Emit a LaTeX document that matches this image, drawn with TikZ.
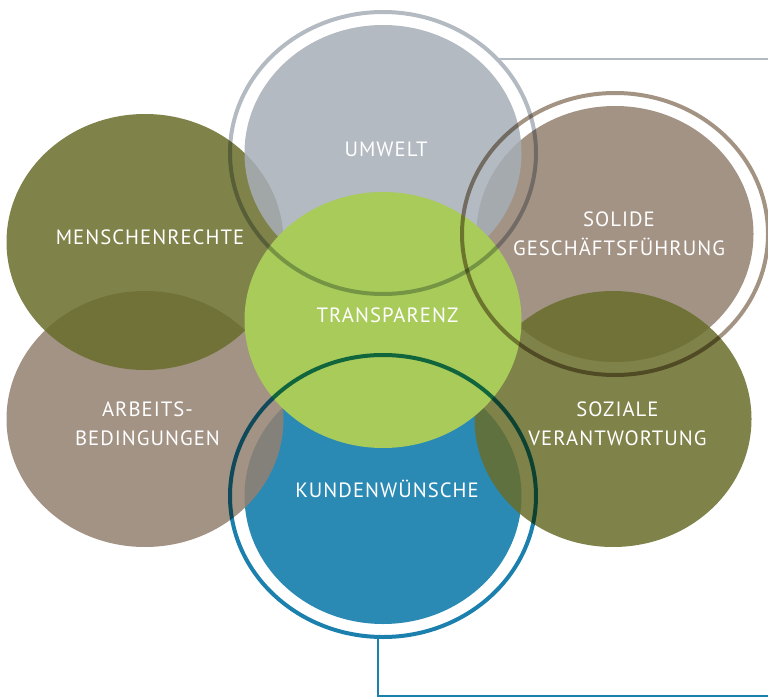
\documentclass[tikz,border=0pt]{standalone}
\usepackage{fontspec}
\newfontfamily\labelfont[LetterSpace=5]{PT Sans}
\usepackage{tikz}
\usetikzlibrary{shapes.geometric}
\definecolor{olivfill}{HTML}{686D2A}
\definecolor{taupefill}{HTML}{938070}
\definecolor{graufill}{HTML}{A6AEB6}
\definecolor{blaufill}{HTML}{0575A7}
\definecolor{gruenfill}{HTML}{A8CB5A}
\definecolor{grauring}{HTML}{B3BAC1}
\definecolor{taupering}{HTML}{A39383}
\definecolor{blauring}{HTML}{1B80AD}

\begin{document}
\begin{tikzpicture}[x=1pt,y=-1pt,
  blob/.style={ellipse, minimum width=277pt, minimum height=256pt, inner sep=0pt, fill opacity=0.85},
  ringline/.style={ellipse, draw, line width=4pt, minimum width=306pt, minimum height=282pt, inner sep=0pt},
  txt/.style={text=white, font=\labelfont\fontsize{20.7}{29}\selectfont, align=center},
  oneline/.style={txt, text height=14.5pt, text depth=0pt},
  link/.style={line width=2pt}]
\useasboundingbox (0,0) rectangle (768,698);
\node[blob, fill=blaufill] (kunden) at (383,496) {};
\node[blob, fill=taupefill] (arbeit) at (145,419) {};
\node[blob, fill=olivfill] (menschen) at (145,242) {};
\node[blob, fill=taupefill] (solide) at (615,234) {};
\node[blob, fill=graufill] (umwelt) at (383,153) {};
\node[blob, fill=olivfill] (sozial) at (613,419) {};
\node[blob, fill=gruenfill, fill opacity=1] (transparenz) at (383,320) {};
\begin{scope}[blend mode=multiply]
\node[ringline, draw=grauring] (umweltring) at (umwelt) {};
\node[ringline, draw=taupering] (solidering) at (solide) {};
\node[ringline, draw=blauring] (kundenring) at (kunden) {};
\end{scope}
\coordinate (topend) at (768,58);
\coordinate (botend) at (768,696);
\draw[link, draw=grauring] (umweltring.39) -- (umweltring.39 -| topend);
\draw[link, draw=blauring] (kundenring.268) |- (botend);
\node[oneline] (umwelttext) at (386,149.5) {UMWELT};
\node[oneline] (transparenztext) at (387.5,315) {TRANSPARENZ};
\node[oneline] (menschentext) at (150,237.5) {MENSCHENRECHTE};
\node[txt] (arbeittext) at (147.5,423.5) {ARBEITS-\\BEDINGUNGEN};
\node[txt] (solidetext) at (619,233.5) {SOLIDE\\GESCHÄFTSFÜHRUNG};
\node[txt] (sozialtext) at (617.5,424) {SOZIALE\\VERANTWORTUNG};
\node[oneline] (kundentext) at (387,490.5) {KUNDENWÜNSCHE};
\end{tikzpicture}
\end{document}
